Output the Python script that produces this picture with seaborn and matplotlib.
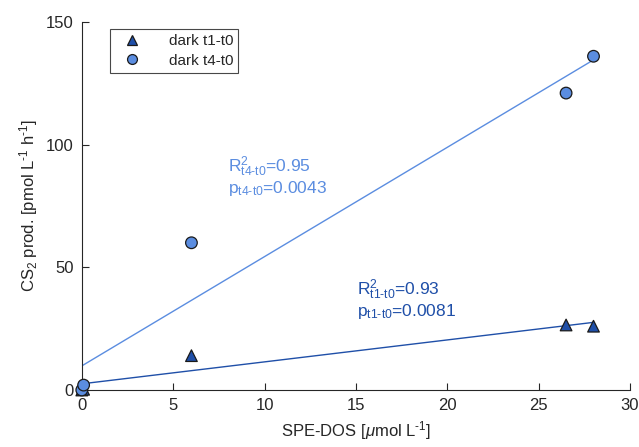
import matplotlib
matplotlib.use("Agg")
import matplotlib.pyplot as plt
import pandas as pd
import seaborn as sns

# values
dos_t1 = [0.0, 0.1, 6.0, 26.5, 28.0]
prod_t1 = [0.0, 0.3, 14.0, 26.5, 26.0]
dos_t4 = [0.0, 0.1, 6.0, 26.5, 28.0]
prod_t4 = [0.0, 2.0, 60.0, 121.0, 136.0]
series = ["dark t1-t0", "dark t4-t0"]
stats_t1 = ("0.93", "0.0081")
stats_t4 = ("0.95", "0.0043")
x_ticks = [0, 5, 10, 15, 20, 25, 30]
y_ticks = [0, 50, 100, 150]

colors = {"dark t1-t0": "#1f4fa8", "dark t4-t0": "#5b8de0"}
markers = {"dark t1-t0": "^", "dark t4-t0": "o"}

sns.set_style("ticks")
plt.rcParams["font.family"] = ["Liberation Sans", "DejaVu Sans"]
plt.rcParams["mathtext.fontset"] = "custom"
plt.rcParams["mathtext.rm"] = "Liberation Sans"
plt.rcParams["mathtext.it"] = "Liberation Sans:italic"
plt.rcParams["mathtext.bf"] = "Liberation Sans:bold"

df = pd.DataFrame({
    "x": dos_t1 + dos_t4,
    "y": prod_t1 + prod_t4,
    "series": [series[0]] * len(dos_t1) + [series[1]] * len(dos_t4),
})

fig = plt.figure(figsize=(6.39, 4.47), dpi=100)
ax = fig.add_axes([0.128, 0.1275, 0.858, 0.8235])

# fit lines first so markers sit on top
sns.regplot(x=dos_t1, y=prod_t1, scatter=False, ci=None, ax=ax,
            line_kws={"color": colors[series[0]], "lw": 1.0})
sns.regplot(x=dos_t4, y=prod_t4, scatter=False, ci=None, ax=ax,
            line_kws={"color": colors[series[1]], "lw": 1.0})

sns.scatterplot(data=df, x="x", y="y", hue="series", style="series",
                palette=colors, markers=markers, s=70,
                edgecolor="#1a1a1a", linewidth=0.9, ax=ax, zorder=6)
for coll in ax.collections:
    coll.set_clip_on(False)

ax.set_xlim(0, 30)
ax.set_ylim(0, 150)
ax.set_xticks(x_ticks)
ax.set_yticks(y_ticks)
ax.tick_params(direction="in", length=5, width=0.8, colors="#262626",
               labelsize=12, pad=6)
for side in ["left", "bottom"]:
    ax.spines[side].set_color("#262626")
    ax.spines[side].set_linewidth(0.8)
sns.despine(ax=ax)

ax.set_xlabel(r"SPE-DOS [$\mathit{\mu}$mol L$^{\text{-}1}$]", fontsize=12,
              color="#262626")
ax.set_ylabel(r"CS$_2$ prod. [pmol L$^{\text{-}1}$ h$^{\text{-}1}$]",
              fontsize=12, color="#262626")

ax.text(8.0, 87,
        r"R$^2_{\text{t4-t0}}$=%s" "\n" r"p$_{\text{t4-t0}}$=%s" % stats_t4,
        color=colors[series[1]], fontsize=12.5, va="center", ha="left",
        linespacing=1.0)
ax.text(15.05, 37,
        r"R$^2_{\text{t1-t0}}$=%s" "\n" r"p$_{\text{t1-t0}}$=%s" % stats_t1,
        color=colors[series[0]], fontsize=12.5, va="center", ha="left",
        linespacing=1.0)

leg = ax.legend(loc="upper left", bbox_to_anchor=(0.051, 0.981),
                fontsize=11, frameon=True, fancybox=False, markerscale=0.85,
                handlelength=2.2, handletextpad=1.3, borderpad=0.35,
                labelspacing=0.35, borderaxespad=0)
leg.get_frame().set_edgecolor("#1a1a1a")
leg.get_frame().set_linewidth(0.8)
leg.set_title(None)

fig.savefig("out.png", dpi=100)
